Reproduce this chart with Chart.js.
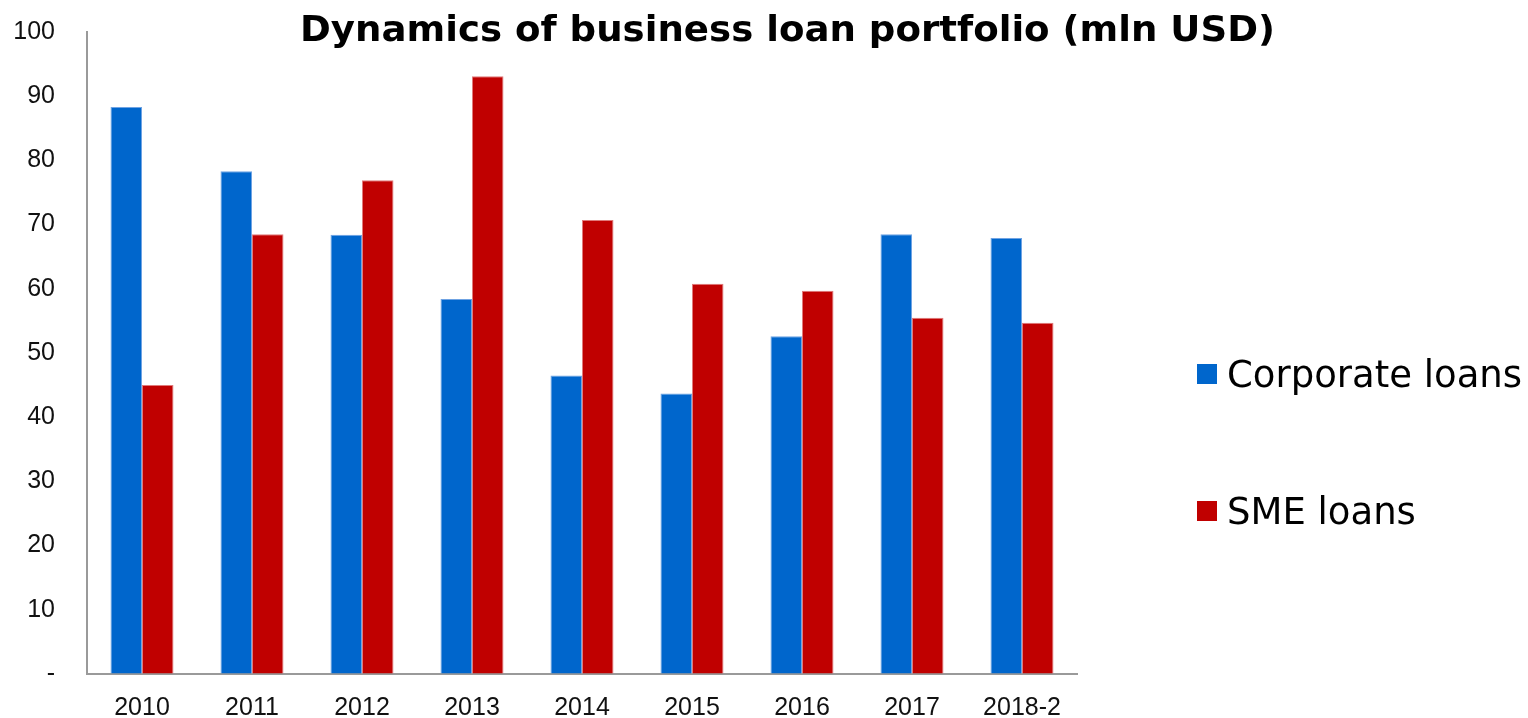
<!DOCTYPE html>
<html>
<head>
<meta charset="utf-8">
<title>Dynamics of business loan portfolio</title>
<script src="https://cdn.jsdelivr.net/npm/chart.js@4.4.0/dist/chart.umd.min.js"></script>
<style>
    html, body { margin: 0; padding: 0; background: #fff; }
    #wrap { position: relative; width: 1528px; height: 718px; }
</style>
</head>
<body>
<div id="wrap"><canvas id="loanChart" width="1528" height="718"></canvas></div>
<script>
const titleText = 'Dynamics of business loan portfolio (mln USD)';
const years = ['2010', '2011', '2012', '2013', '2014', '2015', '2016', '2017', '2018-2'];
const corporateLoans = [88.3, 78.3, 68.4, 58.4, 46.5, 43.7, 52.6, 68.5, 67.9];
const smeLoans = [45.0, 68.5, 76.9, 93.1, 70.7, 60.8, 59.7, 55.5, 54.7];
const seriesNames = ['Corporate loans', 'SME loans'];

const BLUE = '#0066CC';
const RED = '#C00000';

// title and the side legend are painted straight onto the canvas
const headerPlugin = {
    id: 'header',
    afterDraw(chart) {
        const ctx = chart.ctx;
        ctx.save();
        ctx.font = 'bold 35px "DejaVu Sans"';
        ctx.fillStyle = '#000';
        ctx.textBaseline = 'alphabetic';
        const w = ctx.measureText(titleText).width;
        ctx.translate(300, 41);
        ctx.scale(975 / w, 1);
        ctx.fillText(titleText, 0, 0);
        ctx.restore();

        ctx.save();
        ctx.font = '37px "DejaVu Sans"';
        ctx.textBaseline = 'alphabetic';
        chart.data.datasets.forEach((ds, i) => {
            const cy = 374 + i * 137;
            ctx.fillStyle = ds.backgroundColor;
            ctx.fillRect(1197, cy - 10, 20, 20);
            ctx.fillStyle = '#000';
            ctx.fillText(ds.label, 1227, cy + 13);
        });
        ctx.restore();
    }
};

new Chart(document.getElementById('loanChart'), {
    type: 'bar',
    data: {
        labels: years,
        datasets: [{
            label: seriesNames[0],
            data: corporateLoans,
            backgroundColor: BLUE,
            borderColor: '#6FA3E3',
            borderWidth: 1
        }, {
            label: seriesNames[1],
            data: smeLoans,
            backgroundColor: RED,
            borderColor: '#E07A7A',
            borderWidth: 1
        }]
    },
    options: {
        responsive: false,
        animation: false,
        layout: {
            padding: { top: 32, right: 451, bottom: 0, left: 0 }
        },
        datasets: {
            bar: { categoryPercentage: 0.573, barPercentage: 1.0 }
        },
        plugins: {
            legend: { display: false },
            title: { display: false },
            tooltip: { enabled: false }
        },
        scales: {
            x: {
                grid: { display: true, drawOnChartArea: false, drawTicks: false },
                border: { display: true, color: '#9a9a9a', width: 2 },
                ticks: {
                    color: '#111',
                    padding: 19,
                    maxRotation: 0,
                    font: { family: '"Liberation Sans", Arial, sans-serif', size: 25 }
                },
                afterFit(scale) { scale.height = 44; }
            },
            y: {
                min: 0,
                max: 100,
                // invisible tick marks keep the labels off the axis line
                grid: {
                    display: true,
                    drawOnChartArea: false,
                    drawTicks: true,
                    tickLength: 32,
                    tickColor: 'rgba(0,0,0,0)'
                },
                border: { display: true, color: '#9a9a9a', width: 2 },
                ticks: {
                    stepSize: 10,
                    color: '#111',
                    padding: 0,
                    font: { family: '"Liberation Sans", Arial, sans-serif', size: 25 },
                    callback: v => v === 0 ? '-' : v
                },
                afterFit(scale) { scale.width = 87; }
            }
        }
    },
    plugins: [headerPlugin]
});
</script>
</body>
</html>
